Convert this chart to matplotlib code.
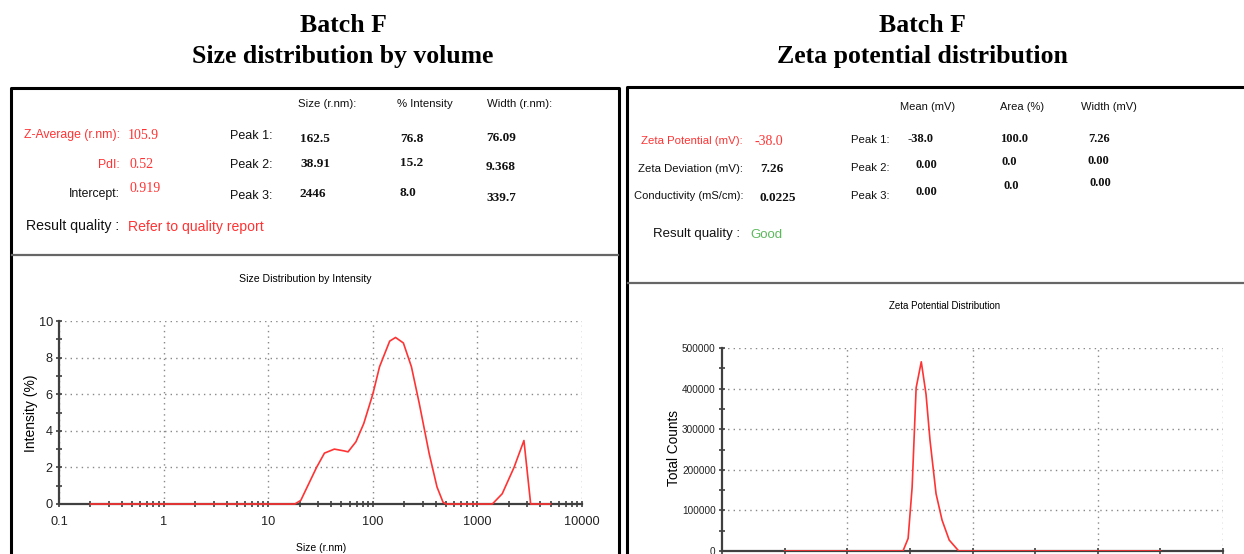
import numpy as np
import matplotlib
matplotlib.use("Agg")
import matplotlib.pyplot as plt
from matplotlib import font_manager
from matplotlib.lines import Line2D
from matplotlib.ticker import FixedLocator, NullFormatter

# ---------------------------------------------------------------------------
# Data
# ---------------------------------------------------------------------------

size_nm = [0.2, 18.0, 20.5, 29, 34.5, 42.9, 53.3, 58, 69, 82, 100, 116, 145, 165,
           196, 234, 278, 346, 411, 469, 501, 1390, 1727, 2240, 2786, 3230, 5000]
intensity_pct = [0, 0, 0.2, 2.0, 2.78, 3.0, 2.9, 2.85, 3.4, 4.4, 6.0, 7.5, 8.9, 9.1,
                 8.8, 7.5, 5.5, 2.75, 0.93, 0.1, 0, 0, 0.56, 2.0, 3.47, 0, 0]

zeta_mv = [-150, -55.5, -51.4, -48.2, -45.0, -40.9, -37.1, -33.9, -29.1, -24.3,
           -18.6, -11.0, 150]
zeta_counts = [0, 0, 31000, 157000, 402000, 466000, 386000, 272000, 141000, 76000,
               27000, 0, 0]

size_hdr = ["Size (r.nm):", "% Intensity", "Width (r.nm):"]
size_peaks = [["162.5", "76.8", "76.09"],
              ["38.91", "15.2", "9.368"],
              ["2446", "8.0", "339.7"]]
zeta_hdr = ["Mean (mV)", "Area (%)", "Width (mV)"]
zeta_peaks = [["-38.0", "100.0", "7.26"],
              ["0.00", "0.0", "0.00"],
              ["0.00", "0.0", "0.00"]]

W, H = 1244, 554
RED = "#ff3333"
AXC = "#404040"

avail = {f.name for f in font_manager.fontManager.ttflist}
NARROW = "Liberation Sans Narrow" if "Liberation Sans Narrow" in avail else "Liberation Sans"
SERIF = "Liberation Serif"
SANS = "Liberation Sans"

fig = plt.figure(figsize=(W / 100, H / 100), dpi=100)
fig.patch.set_facecolor("white")


def fx(x):
    return x / W


def fy(y):
    return 1 - y / H


def txt(x, y, s, **kw):
    kw.setdefault("va", "center")
    fig.text(fx(x), fy(y), s, **kw)


def line(xs, ys, **kw):
    fig.add_artist(Line2D([fx(v) for v in xs], [fy(v) for v in ys], **kw))


def add_ax(x0, y0, x1, y1):
    return fig.add_axes([fx(x0), fy(y1), (x1 - x0) / W, (y1 - y0) / H])


# titles
for cx, sub in [(343, "Size distribution by volume"), (922, "Zeta potential distribution")]:
    txt(cx, 25, "Batch F", ha="center", family=SERIF, weight="bold", fontsize=18.5)
    txt(cx, 57, sub, ha="center", family=SERIF, weight="bold", fontsize=18.5)

# panel frames
line([11, 11, 619, 619], [560, 88, 88, 560], color="black", lw=2.2)
line([627, 627, 1250], [560, 87, 87], color="black", lw=2.2)
line([12, 618], [255, 255], color="#666666", lw=1.6)
line([628, 1244], [283, 283], color="#666666", lw=1.6)

lab = dict(family=NARROW, fontsize=8.8, color="#111111")
num = dict(family=SERIF, weight="bold", fontsize=9.5, color="#111111")
rnum = dict(family=SERIF, fontsize=10, color=RED)

# ---- left info table
for x, s in zip([298, 397, 487], size_hdr):
    txt(x, 104, s, **{**lab, "fontsize": 8.2})
txt(120, 135, "Z-Average (r.nm):", ha="right", **{**lab, "color": RED})
txt(128, 136, "105.9", **rnum)
txt(120, 165, "PdI:", ha="right", **{**lab, "color": RED})
txt(129, 165, "0.52", **rnum)
txt(120, 194, "Intercept:", ha="right", **lab)
txt(129, 189, "0.919", **rnum)
txt(119, 226, "Result quality :", ha="right", **{**lab, "fontsize": 10.2})
txt(128, 227, "Refer to quality report", **{**lab, "color": RED, "fontsize": 10.1})
for i, y in enumerate([136, 165, 196]):
    txt(230, y, f"Peak {i + 1}:", **{**lab, "fontsize": 9})
for row, ys in zip(size_peaks, [[139, 139, 138], [164, 163, 167], [194, 193, 198]]):
    for x, y, s in zip([300, 400, 486], ys, row):
        txt(x, y, s, **num)

# ---- right info table
for x, s in zip([900, 1000, 1081], zeta_hdr):
    txt(x, 107, s, **{**lab, "fontsize": 8})
txt(743, 141, "Zeta Potential (mV):", ha="right", **{**lab, "color": RED, "fontsize": 8.2})
txt(754, 141, "-38.0", **rnum)
txt(743, 169, "Zeta Deviation (mV):", ha="right", **{**lab, "fontsize": 8.2})
txt(760, 169, "7.26", **num)
txt(743, 196, "Conductivity (mS/cm):", ha="right", **{**lab, "fontsize": 8})
txt(759, 198, "0.0225", **num)
txt(740, 234, "Result quality :", ha="right", **{**lab, "fontsize": 9.5})
txt(750, 235, "Good", **{**lab, "color": "#5cb85c", "fontsize": 9.5})
for i, y in enumerate([140, 168, 196]):
    txt(851, y, f"Peak {i + 1}:", **{**lab, "fontsize": 8.2})
for row, xs, ys in zip(zeta_peaks,
                       [[908, 1000, 1088], [915, 1002, 1088], [916, 1004, 1089]],
                       [[139, 139, 139], [165, 162, 161], [192, 186, 183]]):
    for x, y, s in zip(xs, ys, row):
        txt(x, y, s, **{**num, "fontsize": 9})


def style_axes(ax, size):
    for side in ("top", "right"):
        ax.spines[side].set_visible(False)
    for side in ("left", "bottom"):
        ax.spines[side].set_color(AXC)
        ax.spines[side].set_linewidth(1.6)
    ax.tick_params(which="both", direction="inout", length=5, width=1.2, color=AXC,
                   labelsize=size, labelcolor="#222222", pad=2)
    ax.tick_params(which="minor", length=4)
    for t in ax.get_xticklabels() + ax.get_yticklabels():
        t.set_family(NARROW)
    ax.patch.set_alpha(0)


GRID = dict(color="#888888", linestyle=(0, (1, 3)), linewidth=1.0)

# ---- size distribution plot
ax1 = add_ax(59, 321, 582, 504)
ax1.set_xscale("log")
ax1.set_xlim(0.1, 10000)
ax1.set_ylim(0, 10)
ax1.plot(size_nm, intensity_pct, color=RED, lw=1.2, clip_on=False, zorder=3)
ax1.set_xticks([0.1, 1, 10, 100, 1000, 10000])
ax1.set_xticklabels(["0.1", "1", "10", "100", "1000", "10000"])
ax1.xaxis.set_minor_locator(FixedLocator(
    [m * d for d in [0.1, 1, 10, 100, 1000] for m in range(2, 10)]))
ax1.xaxis.set_minor_formatter(NullFormatter())
ax1.set_yticks(range(0, 11, 2))
ax1.yaxis.set_minor_locator(FixedLocator(range(1, 10, 2)))
ax1.grid(True, which="major", **GRID)
style_axes(ax1, 9.2)
ax1.tick_params(axis="x", pad=6)
txt(305, 279, "Size Distribution by Intensity", ha="center", family=NARROW, fontsize=7.6)
txt(31, 413, "Intensity (%)", ha="center", rotation=90, family=SANS, fontsize=10)
txt(321, 548, "Size (r.nm)", ha="center", family=NARROW, fontsize=7.5)

# ---- zeta potential plot
ax2 = add_ax(722, 348, 1223, 551)
ax2.set_xlim(-200, 200)
ax2.set_ylim(0, 500000)
ax2.plot(zeta_mv, zeta_counts, color=RED, lw=1.2, zorder=3)
ax2.set_xticks(range(-200, 201, 50))
ax2.set_yticks(range(0, 500001, 100000))
ax2.yaxis.set_minor_locator(FixedLocator(range(50000, 500000, 100000)))
ax2.set_yticklabels([str(v) for v in range(0, 500001, 100000)])
style_axes(ax2, 7.2)
ax2.tick_params(axis="x", labelbottom=False)
for v in [-100, 0, 100, 200]:
    ax2.axvline(v, **GRID, zorder=1)
for v in range(100000, 500001, 100000):
    ax2.axhline(v, **GRID, zorder=1)
txt(945, 306, "Zeta Potential Distribution", ha="center", family=NARROW, fontsize=7)
txt(674, 448, "Total Counts", ha="center", rotation=90, family=SANS, fontsize=9.8)

fig.savefig("out.png", dpi=100)
